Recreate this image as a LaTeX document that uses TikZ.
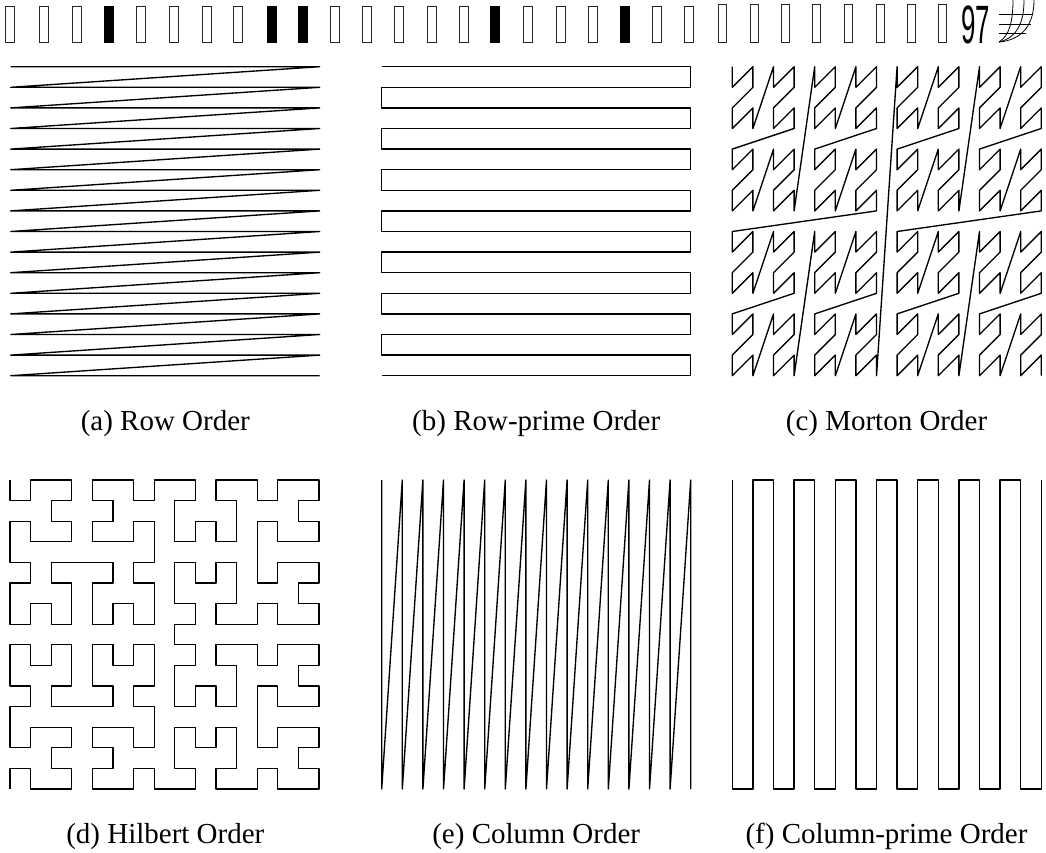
\documentclass[tikz,border=0pt]{standalone}
\usepackage{fontspec}
\setmainfont{Liberation Serif}
\newfontfamily\numfont{Liberation Sans}
\usetikzlibrary{lindenmayersystems}
\pgfdeclarelindenmayersystem{Hilbert curve}{
  \rule{L -> +RF-LFL-FR+}
  \rule{R -> -LF+RFR+FL-}
}
\begin{document}
\begin{tikzpicture}[x=1pt,y=-1pt,
  curve/.style={line width=1.35pt, line join=round, line cap=butt},
  caption/.style={font=\fontsize{29}{34}\selectfont, anchor=base, inner sep=0pt},
  tofu/.style={line width=0.9pt, draw=black!85},
  glyph/.style={line width=0.8pt}]
\useasboundingbox (0,0) rectangle (1046,852);
\def\stp{20.6}
\def\wid{309}
% ---------- header row (missing glyph boxes) ----------
\foreach \xx/\ff in {5/0, 39/0, 72/0, 104/1, 136/0, 169/0, 202/0, 233/0, 267/1, 298/1, 330/0, 362/0, 394/0, 427/0, 459/0, 490/1, 523/0, 556/0, 588/0, 620/1, 652/0, 684/0}{
  \ifnum\ff=1 \fill (\xx,6) rectangle ++(9.5,37);
  \else \draw[tofu] (\xx+0.5,6.5) rectangle ++(8.5,36); \fi
}
\foreach \xx in {718, 750, 781, 812, 844, 876, 907, 938}{
  \draw[tofu] (\xx+0.5,4) rectangle ++(8,38.5);
}
\node[anchor=base, inner sep=0pt] (num) at (975.5,43.3) {\scalebox{0.48}[1]{\numfont\fontsize{54}{54}\selectfont 97}};
\draw[glyph] (999,14) -- (1033,14) (999,24) -- (1031,24) (999,33) -- (1026,33);
\draw[glyph] (1034,0) .. controls (1034,25) and (1022,40) .. (999,42);
\draw[glyph] (1024,0) .. controls (1024,24) and (1016,38) .. (999,42);
\draw[glyph] (1013,0) .. controls (1013,22) and (1009,36) .. (999,42);
% ---------- (a) Row Order ----------
\begin{scope}[shift={(10.7,66.7)}]
\draw[curve] (0,0) \foreach \r in {0,...,15}{ -- (0,{\stp*\r}) -- (\wid,{\stp*\r}) };
\end{scope}
% ---------- (b) Row-prime Order ----------
\begin{scope}[shift={(381.7,66.7)}]
\draw[curve] (0,0) \foreach \r in {0,2,...,14}{ -- (0,{\stp*\r}) -- (\wid,{\stp*\r}) -- (\wid,{\stp*(\r+1)}) -- (0,{\stp*(\r+1)}) };
\end{scope}
% ---------- (c) Morton Order ----------
\begin{scope}[shift={(732.3,66.7)}]
\draw[curve] (0,0)
 \foreach \ma in {0,1}{ \foreach \mb in {0,1}{ \foreach \mc in {0,1}{ \foreach \md in {0,1}{
 \foreach \me in {0,1}{ \foreach \mf in {0,1}{ \foreach \mg in {0,1}{ \foreach \mh in {0,1}{
  -- ({\stp*(8*\ma+4*\mc+2*\me+\mg)},{\stp*(8*\mb+4*\md+2*\mf+\mh)})
 }}}}}}}};
\end{scope}
% ---------- (d) Hilbert Order ----------
\begin{scope}[shift={(10,480)}, rotate=-90]
\draw[curve, lindenmayer system={Hilbert curve, axiom=L, order=4, step=20.6pt, angle=90}] (0,0) lindenmayer system;
\end{scope}
% ---------- (e) Column Order ----------
\begin{scope}[shift={(381.7,480)}]
\draw[curve] (0,0) \foreach \cc in {0,...,15}{ -- ({\stp*\cc},0) -- ({\stp*\cc},\wid) };
\end{scope}
% ---------- (f) Column-prime Order ----------
\begin{scope}[shift={(732.3,480)}]
\draw[curve] (0,0) \foreach \cc in {0,2,...,14}{ -- ({\stp*\cc},0) -- ({\stp*\cc},\wid) -- ({\stp*(\cc+1)},\wid) -- ({\stp*(\cc+1)},0) };
\end{scope}
% ---------- captions ----------
\node[caption] (capa) at (165.3,430) {(a) Row Order};
\node[caption] (capb) at (536.2,430) {(b) Row-prime Order};
\node[caption] (capc) at (886.5,430) {(c) Morton Order};
\node[caption] (capd) at (165.3,843.3) {(d) Hilbert Order};
\node[caption] (cape) at (536.2,843.3) {(e) Column Order};
\node[caption] (capf) at (886.5,843.3) {(f) Column-prime Order};
\end{tikzpicture}
\end{document}
